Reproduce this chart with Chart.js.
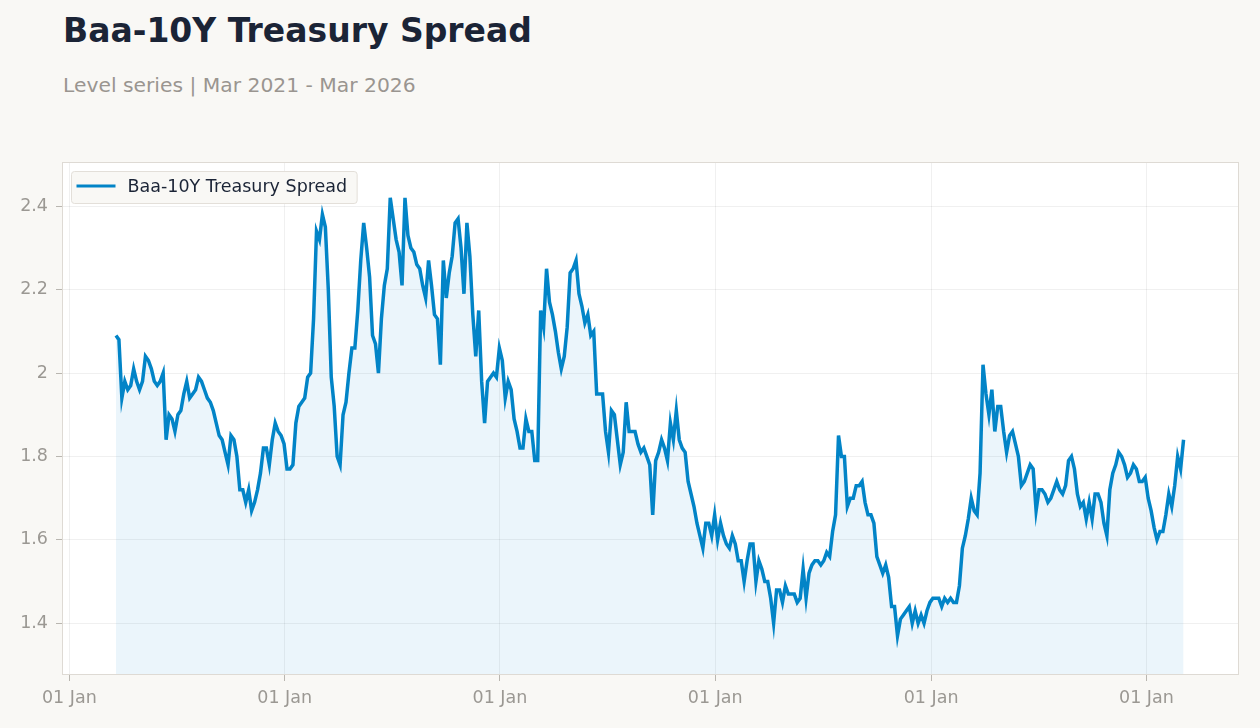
<!DOCTYPE html>
<html>
<head>
<meta charset="utf-8">
<title>Baa-10Y Treasury Spread</title>
<script src="https://cdn.jsdelivr.net/npm/chart.js@4.4.1/dist/chart.umd.min.js"></script>
<style>
html, body { margin: 0; padding: 0; background: #f9f8f5; width: 1260px; height: 728px; overflow: hidden; font-family: "DejaVu Sans", sans-serif; }
#title { position: absolute; left: 63px; top: 14px; margin: 0; font-size: 33px; line-height: 33px; font-weight: bold; color: #1b2436; white-space: nowrap; }
#subtitle { position: absolute; left: 63px; top: 75px; margin: 0; font-size: 20.3px; line-height: 20px; color: #9a9590; white-space: nowrap; }
#wrap { position: absolute; left: 0; top: 150px; width: 1260px; height: 578px; }
</style>
</head>
<body>
<h1 id="title">Baa-10Y Treasury Spread</h1>
<p id="subtitle">Level series | Mar 2021 - Mar 2026</p>
<div id="wrap"><canvas id="chart"></canvas></div>
<script>
// series: one reading every 5 days, starting 21 Mar 2021
const seriesLabel = 'Baa-10Y Treasury Spread';
const firstDate = '2021-03-21';
const stepDays = 5;
const spread = [
  2.09, 2.08, 1.94, 1.98, 1.96, 1.97, 2.01, 1.98, 1.96, 1.98, 2.04, 2.03, 2.01, 1.98, 1.97, 1.98, 2.00, 1.84, 1.90, 1.89,
  1.86, 1.90, 1.91, 1.95, 1.98, 1.94, 1.95, 1.96, 1.99, 1.98, 1.96, 1.94, 1.93, 1.91, 1.88, 1.85, 1.84, 1.81, 1.78, 1.85,
  1.84, 1.80, 1.72, 1.72, 1.69, 1.72, 1.67, 1.69, 1.72, 1.76, 1.82, 1.82, 1.78, 1.84, 1.88, 1.86, 1.85, 1.83, 1.77, 1.77,
  1.78, 1.88, 1.92, 1.93, 1.94, 1.99, 2.00, 2.13, 2.34, 2.32, 2.38, 2.35, 2.20, 1.99, 1.92, 1.80, 1.78, 1.90, 1.93, 2.00,
  2.06, 2.06, 2.15, 2.27, 2.36, 2.30, 2.23, 2.09, 2.07, 2.00, 2.13, 2.21, 2.25, 2.42, 2.37, 2.32, 2.29, 2.21, 2.42, 2.33,
  2.30, 2.29, 2.26, 2.25, 2.21, 2.18, 2.27, 2.21, 2.14, 2.13, 2.02, 2.27, 2.18, 2.24, 2.28, 2.36, 2.37, 2.30, 2.19, 2.36,
  2.28, 2.14, 2.04, 2.15, 1.98, 1.88, 1.98, 1.99, 2.00, 1.99, 2.06, 2.03, 1.94, 1.98, 1.96, 1.89, 1.86, 1.82, 1.82, 1.89,
  1.86, 1.86, 1.79, 1.79, 2.15, 2.11, 2.25, 2.17, 2.14, 2.10, 2.05, 2.01, 2.04, 2.11, 2.24, 2.25, 2.27, 2.19, 2.16, 2.12,
  2.14, 2.09, 2.10, 1.95, 1.95, 1.95, 1.86, 1.81, 1.91, 1.90, 1.84, 1.78, 1.81, 1.93, 1.86, 1.86, 1.86, 1.83, 1.81, 1.82,
  1.80, 1.78, 1.66, 1.79, 1.81, 1.84, 1.82, 1.79, 1.88, 1.84, 1.91, 1.84, 1.82, 1.81, 1.74, 1.71, 1.68, 1.64, 1.61, 1.58,
  1.64, 1.64, 1.61, 1.66, 1.60, 1.64, 1.61, 1.59, 1.58, 1.61, 1.59, 1.55, 1.55, 1.50, 1.55, 1.59, 1.59, 1.50, 1.55, 1.53,
  1.50, 1.50, 1.46, 1.40, 1.48, 1.48, 1.45, 1.49, 1.47, 1.47, 1.47, 1.45, 1.46, 1.53, 1.46, 1.52, 1.54, 1.55, 1.55, 1.54,
  1.55, 1.57, 1.56, 1.62, 1.66, 1.85, 1.80, 1.80, 1.68, 1.70, 1.70, 1.73, 1.73, 1.74, 1.69, 1.66, 1.66, 1.64, 1.56, 1.54,
  1.52, 1.54, 1.51, 1.44, 1.44, 1.37, 1.41, 1.42, 1.43, 1.44, 1.40, 1.43, 1.40, 1.42, 1.40, 1.43, 1.45, 1.46, 1.46, 1.46,
  1.44, 1.46, 1.45, 1.46, 1.45, 1.45, 1.49, 1.58, 1.61, 1.65, 1.70, 1.67, 1.66, 1.76, 2.02, 1.95, 1.90, 1.96, 1.86, 1.92,
  1.92, 1.86, 1.81, 1.85, 1.86, 1.83, 1.80, 1.73, 1.74, 1.76, 1.78, 1.77, 1.67, 1.72, 1.72, 1.71, 1.69, 1.70, 1.72, 1.74,
  1.72, 1.71, 1.73, 1.79, 1.80, 1.77, 1.71, 1.68, 1.69, 1.65, 1.69, 1.65, 1.71, 1.71, 1.69, 1.64, 1.61, 1.72, 1.76, 1.78,
  1.81, 1.80, 1.78, 1.75, 1.76, 1.78, 1.77, 1.74, 1.74, 1.75, 1.70, 1.67, 1.63, 1.60, 1.62, 1.62, 1.66, 1.71, 1.68, 1.73,
  1.80, 1.77, 1.84
];

const xTickDates = ['2021-01-01', '2022-01-01', '2023-01-01', '2024-01-01', '2025-01-01', '2026-01-01'];
const xTickLabels = ['01 Jan', '01 Jan', '01 Jan', '01 Jan', '01 Jan', '01 Jan'];
const yTicks = [1.4, 1.6, 1.8, 2, 2.2, 2.4];
const yTickLabels = ['1.4', '1.6', '1.8', '2', '2.2', '2.4'];

const DAY = 86400000;
const t0 = Date.parse(firstDate);
const points = spread.map((v, i) => ({ x: t0 + i * stepDays * DAY, y: v }));

const lineColor = '#0284c7';
const gridColor = 'rgba(0,0,0,0.06)';
const tickGray = '#9b9893';

Chart.defaults.font.family = '"DejaVu Sans", sans-serif';

// white plot area with a thin frame
const plotFrame = {
  id: 'plotFrame',
  beforeDraw(chart) {
    const a = chart.chartArea, c = chart.ctx;
    c.save();
    c.fillStyle = '#ffffff';
    c.fillRect(a.left, a.top, a.right - a.left, a.bottom - a.top);
    c.restore();
  },
  afterDraw(chart) {
    const a = chart.chartArea, c = chart.ctx;
    c.save();
    c.strokeStyle = '#dedad4';
    c.lineWidth = 1;
    c.strokeRect(a.left + 0.5, a.top + 0.5, a.right - a.left - 1, a.bottom - a.top - 1);
    c.restore();
  }
};

// legend drawn as a boxed item in the top-left corner of the plot
const boxLegend = {
  id: 'boxLegend',
  afterDraw(chart) {
    const a = chart.chartArea, c = chart.ctx;
    const ds = chart.data.datasets[0];
    c.save();
    c.font = '17.5px "DejaVu Sans", sans-serif';
    const tw = c.measureText(ds.label).width;
    const bx = a.left + 9.5, by = a.top + 9.5, bh = 32;
    const bw = 56 + tw + 10;
    c.beginPath();
    c.roundRect(bx, by, bw, bh, 3);
    c.fillStyle = '#f9f8f5';
    c.fill();
    c.strokeStyle = '#e3dfd9';
    c.lineWidth = 1;
    c.stroke();
    c.beginPath();
    c.moveTo(bx + 5, by + 14.5);
    c.lineTo(bx + 44, by + 14.5);
    c.strokeStyle = ds.borderColor;
    c.lineWidth = 3;
    c.stroke();
    c.fillStyle = '#1b2436';
    c.textBaseline = 'middle';
    c.fillText(ds.label, bx + 56, by + 16);
    c.restore();
  }
};

new Chart(document.getElementById('chart'), {
  type: 'line',
  data: {
    datasets: [{
      label: seriesLabel,
      data: points,
      borderColor: lineColor,
      borderWidth: 3.5,
      backgroundColor: 'rgba(2,132,199,0.08)',
      fill: 'start',
      pointRadius: 0,
      tension: 0
    }]
  },
  options: {
    responsive: true,
    maintainAspectRatio: false,
    animation: false,
    layout: { padding: { top: 12, right: 21, bottom: 0, left: 0 } },
    scales: {
      x: {
        type: 'linear',
        min: Date.UTC(2020, 11, 19, 12),
        max: Date.UTC(2026, 5, 7),
        afterBuildTicks: s => { s.ticks = xTickDates.map(d => ({ value: Date.parse(d) })); },
        afterFit: s => { s.height = 53; s.paddingLeft = 0; s.paddingRight = 0; },
        grid: { color: gridColor, tickColor: '#b9b6b0', tickLength: 6 },
        border: { display: false },
        ticks: {
          color: tickGray,
          font: { size: 17.5 },
          padding: 7,
          maxRotation: 0,
          autoSkip: false,
          callback: (v, i) => xTickLabels[i]
        }
      },
      y: {
        min: 1.276,
        max: 2.506,
        afterBuildTicks: s => { s.ticks = yTicks.map(v => ({ value: v })); },
        afterFit: s => { s.width = 62; s.paddingTop = 0; s.paddingBottom = 0; },
        grid: { color: gridColor, tickColor: '#b9b6b0', tickLength: 6 },
        border: { display: false },
        ticks: {
          color: tickGray,
          font: { size: 17.5 },
          padding: 8,
          callback: (v, i) => yTickLabels[i]
        }
      }
    },
    plugins: {
      legend: { display: false },
      tooltip: { enabled: false }
    }
  },
  plugins: [plotFrame, boxLegend]
});
</script>
</body>
</html>
